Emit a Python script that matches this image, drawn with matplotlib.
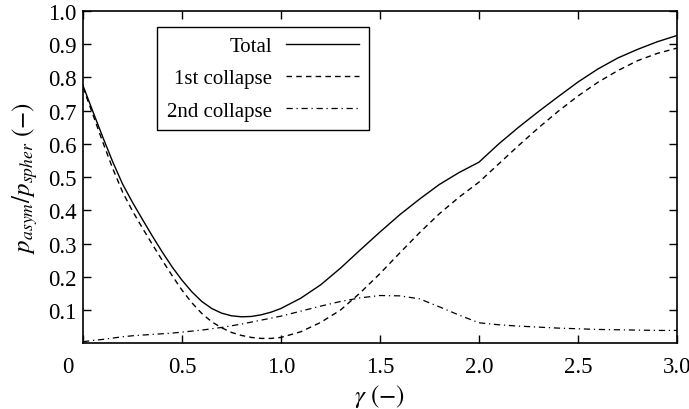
import numpy as np
import matplotlib
matplotlib.use("Agg")
import matplotlib.pyplot as plt
import matplotlib.transforms as mtransforms

plt.rcParams['font.family'] = ['Liberation Serif', 'DejaVu Serif']
plt.rcParams['mathtext.fontset'] = 'stix'

# values
gamma = [0.0, 0.05, 0.1, 0.15, 0.2, 0.25, 0.3, 0.35, 0.4, 0.45, 0.5,
         0.55, 0.6, 0.65, 0.7, 0.75, 0.8, 0.85, 0.9, 0.95, 1.0,
         1.1, 1.2, 1.3, 1.4, 1.5, 1.6, 1.7, 1.8, 1.9, 2.0,
         2.1, 2.2, 2.3, 2.4, 2.5, 2.6, 2.7, 2.8, 2.9, 3.0]
total = [0.775, 0.697, 0.62, 0.546, 0.479, 0.424, 0.373, 0.323, 0.275, 0.23, 0.19,
         0.155, 0.126, 0.105, 0.091, 0.083, 0.08, 0.081, 0.086, 0.094, 0.105,
         0.136, 0.176, 0.226, 0.281, 0.335, 0.387, 0.434, 0.478, 0.514, 0.545,
         0.60, 0.65, 0.697, 0.742, 0.786, 0.825, 0.858, 0.884, 0.907, 0.926]
first = [0.77, 0.688, 0.605, 0.526, 0.455, 0.398, 0.347, 0.298, 0.25, 0.204, 0.16,
         0.122, 0.09, 0.065, 0.047, 0.033, 0.024, 0.018, 0.015, 0.015, 0.018,
         0.035, 0.063, 0.10, 0.152, 0.21, 0.272, 0.333, 0.39, 0.44, 0.485,
         0.54, 0.595, 0.648, 0.698, 0.744, 0.785, 0.82, 0.85, 0.872, 0.888]
second = [0.005, 0.009, 0.012, 0.016, 0.02, 0.023, 0.025, 0.027, 0.029, 0.031, 0.034,
          0.037, 0.04, 0.044, 0.048, 0.053, 0.058, 0.064, 0.07, 0.076, 0.082,
          0.097, 0.112, 0.126, 0.137, 0.144, 0.143, 0.134, 0.11, 0.085, 0.062,
          0.056, 0.052, 0.049, 0.046, 0.044, 0.042, 0.041, 0.040, 0.039, 0.039]

xticks = [0, 0.5, 1.0, 1.5, 2.0, 2.5, 3.0]
xticklabels = ['0', '0.5', '1.0', '1.5', '2.0', '2.5', '3.0']
yticks = [0.1, 0.2, 0.3, 0.4, 0.5, 0.6, 0.7, 0.8, 0.9, 1.0]

fig = plt.figure(figsize=(6.89, 4.10), dpi=100)
ax = fig.add_axes([0.1205, 0.16, 0.862, 0.811])

ax.plot(gamma, total, color='black', lw=1.0, label='Total')
ax.plot(gamma, first, color='black', lw=1.0, dashes=(4, 3), label='1st collapse')
ax.plot(gamma, second, color='black', lw=0.9, dashes=(5, 3, 1, 3), label='2nd collapse')

ax.set_xlim(0, 3.0)
ax.set_ylim(0, 1.0)
ax.set_xticks(xticks)
ax.set_xticklabels(xticklabels)
ax.set_yticks(yticks)
ax.tick_params(direction='in', length=6, width=1, top=True, right=True,
               labelsize=16.5, pad=4.5)
ax.tick_params(axis='x', pad=9)
for s in ax.spines.values():
    s.set_linewidth(1.2)

# the "0" sits left of the corner
lab0 = ax.get_xticklabels()[0]
lab0.set_transform(lab0.get_transform() + mtransforms.ScaledTranslation(-0.15, 0, fig.dpi_scale_trans))

ax.set_xlabel(r'$\gamma$ $(-)$', fontsize=18, labelpad=4)
ax.set_ylabel(r'$p_{asym}/p_{spher}$ $(-)$', fontsize=18, labelpad=6)

leg = ax.legend(loc='upper left', bbox_to_anchor=(0.1253, 0.951), borderaxespad=0,
                markerfirst=False, fontsize=15, handlelength=3.5, handletextpad=0.7,
                labelspacing=0.61, borderpad=0.45, fancybox=False,
                framealpha=1, edgecolor='black')
leg.get_frame().set_linewidth(1.0)
for t in leg.get_texts():
    t.set_ha('right')

fig.savefig('out.png', dpi=100)
